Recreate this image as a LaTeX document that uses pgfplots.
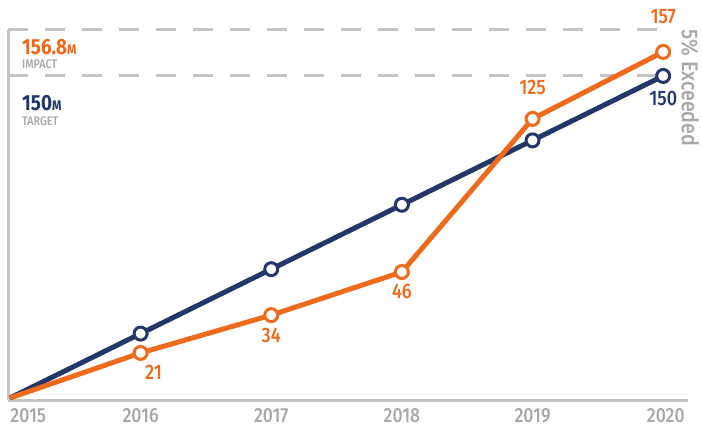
\documentclass[border=0pt]{standalone}
\usepackage{pgfplots}
\pgfplotsset{compat=1.18}
\usepackage{pgfplotstable}
\usepackage{fontspec}
\setmainfont{Fira Sans}[FakeStretch=0.86]
\newfontfamily\med{Fira Sans Medium}[FakeStretch=0.86]
\definecolor{orng}{HTML}{EE6A1C}
\definecolor{navy}{HTML}{253768}
\definecolor{lgray}{HTML}{C4C4C4}
\definecolor{tgray}{HTML}{A8A8A8}

\pgfplotstableread{
x y
2015 0
2016 30
2017 60
2018 90
2019 120
2020 150
}\bluedata

\pgfplotstableread{
x y
2015 0
2016 21.0
2017 38.6
2018 58.7
2019 130.0
2020 161.2
}\orangedata

\pgfplotstableread{
x y label dx dy
2016 21.0 21 13 -19
2017 38.6 34 0 -20
2018 58.7 46 0 -20
2019 130.0 125 0 31
2020 161.2 157 0 35
}\orangelabels

\pgfplotstableread{
x y label dx dy
2020 150 150 0 -23
}\bluelabels

\begin{document}
\begin{tikzpicture}[x=1bp,y=1bp]
\useasboundingbox (0,0) rectangle (702,430);
\begin{axis}[
  at={(8bp,30bp)}, anchor=south west,
  scale only axis, width=680bp, height=370bp,
  xmin=2014.985, xmax=2020.19, ymin=-0.93, ymax=171.4,
  clip=false,
  separate axis lines,
  axis x line*=bottom, axis y line*=left,
  x axis line style={lgray, line width=3bp, -},
  y axis line style={lgray, line width=3bp, -},
  ytick=\empty,
  xtick={2015.14,2016,2017,2018,2019,2020.02},
  xticklabels={2015,2016,2017,2018,2019,2020},
  major tick length=0pt,
  xticklabel style={font=\fontsize{20.5}{20}\med, text=tgray, anchor=north, yshift=-5bp},
  /pgf/number format/assume math mode=true,
]
\draw[lgray, line width=3bp, dash pattern=on 20bp off 17bp] (axis cs:2014.985,171.4) -- (axis cs:2019.98,171.4);
\draw[lgray, line width=3bp, dash pattern=on 20bp off 17bp] (axis cs:2014.985,150) -- (axis cs:2019.98,150);

\addplot[navy, line width=5bp, mark=*, mark size=6.5bp, mark indices={2,3,4,5,6},
  mark options={fill=white, draw=navy, line width=3bp}] table[x=x, y=y] {\bluedata};
\addplot[orng, line width=5bp, mark=*, mark size=6.5bp, mark indices={2,3,4,5,6},
  mark options={fill=white, draw=orng, line width=3bp}] table[x=x, y=y] {\orangedata};

\addplot[draw=none, mark=none, point meta=explicit symbolic,
  visualization depends on={\thisrow{dx}\as\dx},
  visualization depends on={\thisrow{dy}\as\dy},
  nodes near coords,
  every node near coord/.append style={anchor=center, xshift=\dx bp, yshift=\dy bp,
    text=orng, font=\fontsize{21}{21}\med, inner sep=0pt}]
  table[x=x, y=y, meta=label] {\orangelabels};
\addplot[draw=none, mark=none, point meta=explicit symbolic,
  visualization depends on={\thisrow{dx}\as\dx},
  visualization depends on={\thisrow{dy}\as\dy},
  nodes near coords,
  every node near coord/.append style={anchor=center, xshift=\dx bp, yshift=\dy bp,
    text=navy, font=\fontsize{21}{21}\med, inner sep=0pt}]
  table[x=x, y=y, meta=label] {\bluelabels};
\end{axis}

\node[anchor=base west, inner sep=0pt, text=orng, font=\fontsize{22}{22}\bfseries] at (22,376) {156.8{\fontsize{14}{14}\selectfont M}};
\node[anchor=base west, inner sep=0pt, text=tgray, font=\fontsize{12.5}{12}\med] at (22,362) {IMPACT};
\node[anchor=base west, inner sep=0pt, text=navy, font=\fontsize{22}{22}\bfseries] at (22,320) {150{\fontsize{14}{14}\selectfont M}};
\node[anchor=base west, inner sep=0pt, text=tgray, font=\fontsize{12.5}{12}\med] at (22,305) {TARGET};
\node[rotate=-90, anchor=center, inner sep=0pt, text=tgray, font=\fontsize{23}{23}\med] at (690,342) {5\% Exceeded};
\end{tikzpicture}
\end{document}
